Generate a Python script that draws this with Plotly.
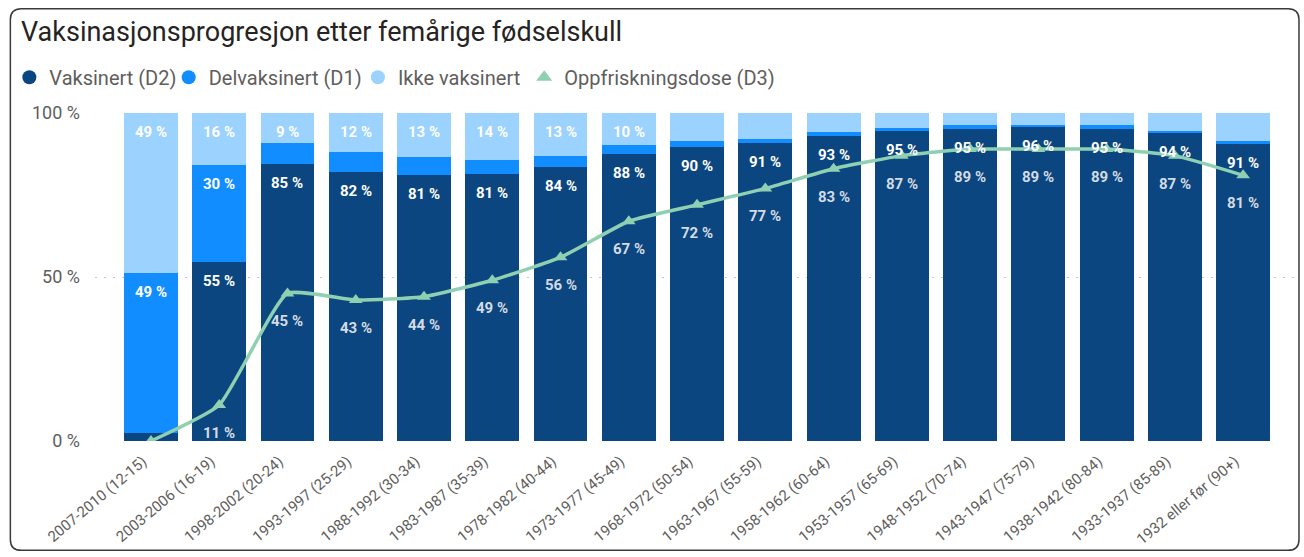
import plotly.graph_objects as go

categories = [
    "2007-2010 (12-15)", "2003-2006 (16-19)", "1998-2002 (20-24)", "1993-1997 (25-29)",
    "1988-1992 (30-34)", "1983-1987 (35-39)", "1978-1982 (40-44)", "1973-1977 (45-49)",
    "1968-1972 (50-54)", "1963-1967 (55-59)", "1958-1962 (60-64)", "1953-1957 (65-69)",
    "1948-1952 (70-74)", "1943-1947 (75-79)", "1938-1942 (80-84)", "1933-1937 (85-89)",
    "1932 eller før (90+)",
]
vaksinert_d2 = [2.5, 54.6, 84.6, 82.1, 81.1, 81.3, 83.6, 87.6, 89.7, 90.9, 93.1, 94.6, 95.2, 95.8, 95.2, 94.0, 90.6]
delvaksinert_d1 = [48.8, 29.6, 6.3, 6.0, 5.5, 4.3, 3.2, 2.5, 1.7, 1.3, 1.2, 0.9, 1.0, 0.4, 1.0, 0.6, 0.8]
ikke_vaksinert = [48.7, 15.8, 9.1, 11.9, 13.4, 14.4, 13.2, 9.9, 8.6, 7.8, 5.7, 4.5, 3.8, 3.8, 3.8, 5.4, 8.6]
oppfriskning_d3 = [0, 11, 45, 43, 44, 49, 56, 67, 72, 77, 83, 87, 89, 89, 89, 87, 81]

C_D2 = "#0B4680"
C_D1 = "#118DFF"
C_IK = "#9BD2FE"
C_D3 = "#8FD0B2"
GREY = "#605E5C"
FONT = "Roboto"

W, H = 1304, 557
ML, MR, MT, MB = 90, 9, 113, 114

pw, ph = W - ML - MR, H - MT - MB
def px(x):
    return (x - ML) / pw
def py(y):
    return (H - MB - y) / ph

fig = go.Figure()
series = [("Vaksinert (D2)", vaksinert_d2, C_D2),
          ("Delvaksinert (D1)", delvaksinert_d1, C_D1),
          ("Ikke vaksinert", ikke_vaksinert, C_IK)]
for name, vals, col in series:
    fig.add_trace(go.Bar(x=categories, y=vals, name=name, marker_color=col,
                         marker_line_width=0, showlegend=False, hoverinfo="skip"))

fig.add_trace(go.Scatter(x=categories, y=oppfriskning_d3, name="Oppfriskningsdose (D3)",
                         mode="lines+markers", showlegend=False,
                         line=dict(color=C_D3, width=3.5, shape="spline", smoothing=0.45),
                         marker=dict(symbol="triangle-up", size=12, color=C_D3)))

legend_ids = ["legend", "legend2", "legend3", "legend4"]
legend_sym_x = [24, 184, 374, 541]
legend_items = [(n, c, "circle") for n, _, c in series] + [("Oppfriskningsdose (D3)", C_D3, "triangle-up")]
for k, (name, col, sym) in enumerate(legend_items):
    fig.add_trace(go.Scatter(x=[None], y=[None], mode="markers", name=name,
                             legend=legend_ids[k],
                             marker=dict(symbol=sym, size=14, color=col)))

annotations = []
base = [0.0] * len(categories)
for name, vals, col in series:
    for i, v in enumerate(vals):
        top = base[i] + v
        if v >= 9:
            annotations.append(dict(x=categories[i], y=top, xref="x", yref="y",
                                    text=f"{round(v)} %", showarrow=False,
                                    yanchor="middle", yshift=-19,
                                    font=dict(family=FONT, size=15, color="white", weight="bold")))
        base[i] = top
for i, v in enumerate(oppfriskning_d3):
    if v >= 5:
        annotations.append(dict(x=categories[i], y=v, xref="x", yref="y",
                                text=f"{round(v)} %", showarrow=False,
                                yanchor="middle", yshift=-28,
                                font=dict(family=FONT, size=15, color="#D3DBE3", weight="bold")))

x0, y0, x1, y1, r = 5, 8, 1299, 553, 11
path = (f"M {px(x0+r)},{py(y0)} L {px(x1-r)},{py(y0)} Q {px(x1)},{py(y0)} {px(x1)},{py(y0+r)} "
        f"L {px(x1)},{py(y1-r)} Q {px(x1)},{py(y1)} {px(x1-r)},{py(y1)} "
        f"L {px(x0+r)},{py(y1)} Q {px(x0)},{py(y1)} {px(x0)},{py(y1-r)} "
        f"L {px(x0)},{py(y0+r)} Q {px(x0)},{py(y0)} {px(x0+r)},{py(y0)} Z")

legend_layout = {}
for k, lid in enumerate(legend_ids):
    legend_layout[lid] = dict(orientation="h", x=px(legend_sym_x[k] - 20), xanchor="left",
                              y=py(77), yanchor="middle",
                              font=dict(family=FONT, size=20, color=GREY), itemwidth=30,
                              bgcolor="rgba(0,0,0,0)")

fig.update_layout(
    width=W, height=H, autosize=False,
    margin=dict(l=ML, r=MR, t=MT, b=MB),
    paper_bgcolor="white", plot_bgcolor="white",
    barmode="stack", bargap=0.21,
    font=dict(family=FONT, color=GREY),
    title=dict(text="Vaksinasjonsprogresjon etter femårige fødselskull",
               xref="container", yref="container", x=21 / W, xanchor="left",
               y=1 - 32 / H, yanchor="middle",
               font=dict(family=FONT, size=27, color="#252423")),
    xaxis=dict(type="category", range=[-0.82, 16.76], tickangle=-40,
               tickfont=dict(family=FONT, size=15, color=GREY),
               showgrid=False, showline=False, zeroline=False, ticks="",
               ticklabelshift=-8, ticklabelstandoff=8),
    yaxis=dict(range=[0, 100], tickvals=[0, 50, 100], ticktext=["0 %", "50 %", "100 %"],
               tickfont=dict(family=FONT, size=18, color=GREY),
               showgrid=True, gridcolor="#C8C6C4", griddash="2px,7px", gridwidth=1,
               zeroline=False, showline=False, ticks="", ticklabelstandoff=14),
    annotations=annotations,
    shapes=[dict(type="path", path=path, xref="paper", yref="paper",
                 line=dict(color="#3A3A3A", width=1.5), layer="above")],
    hovermode=False,
    **legend_layout,
)

fig.write_html("out.html", config={"displayModeBar": False},
               post_script="document.body.style.margin='0';")
